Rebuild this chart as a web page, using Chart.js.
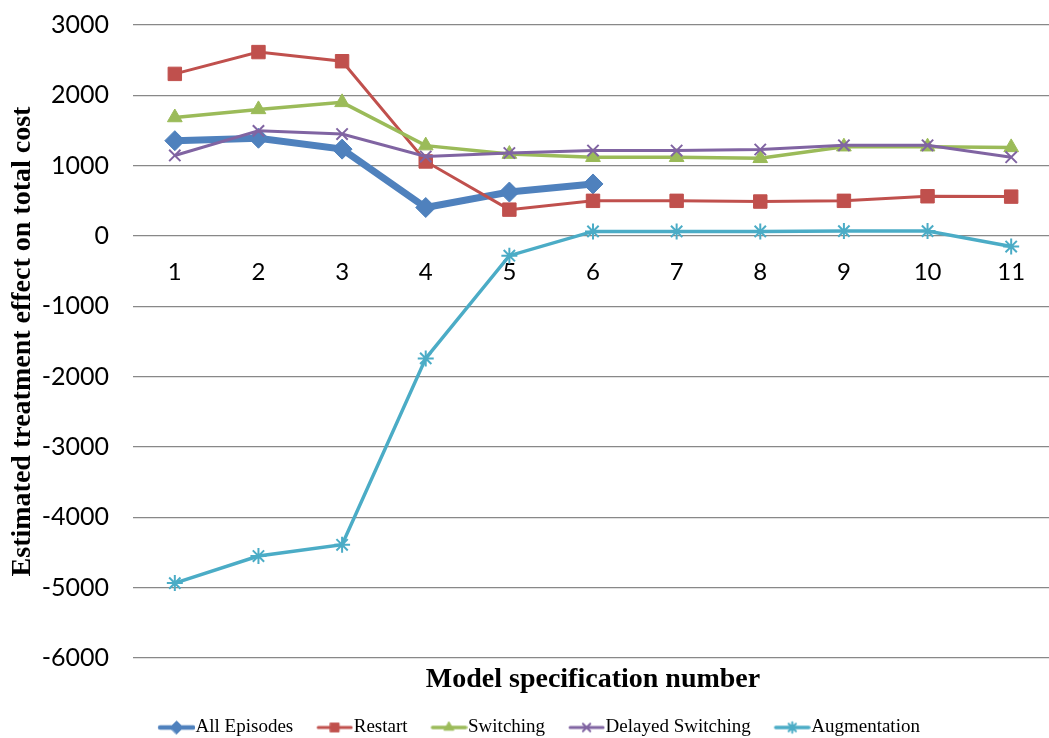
<!DOCTYPE html>
<html>
<head>
<meta charset="utf-8">
<script src="https://cdn.jsdelivr.net/npm/chart.js@4/dist/chart.umd.min.js"></script>
<style>
  html, body { margin: 0; padding: 0; background: #fff; overflow: hidden; }
  #wrap { width: 1064px; height: 747px; position: relative; }
</style>
</head>
<body>
<div id="wrap"><canvas id="cost-chart"></canvas></div>
<script>
const specNumbers = ['1', '2', '3', '4', '5', '6', '7', '8', '9', '10', '11'];

const allEpisodes = [1355, 1390, 1235, 405, 625, 740];
const restart = [2305, 2615, 2485, 1060, 375, 500, 500, 490, 500, 565, 560];
const switching = [1685, 1800, 1900, 1285, 1165, 1120, 1120, 1105, 1270, 1270, 1260];
const delayedSwitching = [1145, 1495, 1450, 1130, 1180, 1215, 1215, 1230, 1290, 1290, 1120];
const augmentation = [-4935, -4550, -4390, -1740, -280, 65, 65, 65, 70, 70, -150];

const yTicks = { min: -6000, max: 3000, step: 1000 };

function series(label, data, color, style, radius, width, order) {
    return {
        label: label,
        data: data,
        borderColor: color,
        backgroundColor: color,
        pointBackgroundColor: color,
        pointBorderColor: color,
        pointStyle: style,
        pointRadius: radius,
        pointHoverRadius: radius,
        pointBorderWidth: (style === 'crossRot' || style === 'star') ? 2 : 1,
        borderWidth: width,
        tension: 0,
        order: order
    };
}

// small canvas with line + marker, like the office-style legend
// (blank strip on the left so the sample sits right before the text)
function legendIcon(ds) {
    const c = document.createElement('canvas');
    c.width = 58;
    c.height = 18;
    const ctx = c.getContext('2d');
    ctx.strokeStyle = ds.borderColor;
    ctx.fillStyle = ds.borderColor;
    ctx.lineWidth = Math.min(ds.borderWidth, 4.5);
    ctx.lineCap = 'round';
    ctx.beginPath();
    ctx.moveTo(23, 9);
    ctx.lineTo(56, 9);
    ctx.stroke();
    ctx.lineWidth = ds.pointBorderWidth;
    Chart.helpers.drawPoint(ctx, {
        pointStyle: ds.pointStyle,
        radius: ds.pointRadius * 0.65,
        borderWidth: ds.pointBorderWidth,
        rotation: 0
    }, 39.5, 9);
    return c;
}

const ctx = document.querySelector('#cost-chart').getContext('2d');

new Chart(ctx, {
    type: 'line',
    data: {
        labels: specNumbers,
        datasets: [
            series('All Episodes', allEpisodes, '#4F81BD', 'rectRot', 10, 7, 5),
            series('Restart', restart, '#C0504D', 'rect', 9.5, 3, 4),
            series('Switching', switching, '#9BBB59', 'triangle', 8.5, 3.5, 3),
            series('Delayed Switching', delayedSwitching, '#8064A2', 'crossRot', 8, 3, 2),
            series('Augmentation', augmentation, '#4BACC6', 'star', 8, 3.5, 1)
        ]
    },
    options: {
        responsive: true,
        maintainAspectRatio: false,
        animation: false,
        layout: { padding: { top: 25, right: 4, left: 6, bottom: 0 } },
        scales: {
            x: {
                type: 'category',
                position: { y: 0 },
                offset: true,
                grid: { display: false },
                border: { display: false },
                ticks: {
                    color: '#000',
                    padding: 14,
                    font: { family: 'Lato', size: 24 }
                }
            },
            y: {
                min: yTicks.min,
                max: yTicks.max,
                // invisible tick marks keep the labels clear of the grid
                grid: { color: '#888', lineWidth: 1.3, drawTicks: true, tickLength: 23, tickColor: 'rgba(0,0,0,0)' },
                border: { display: false },
                afterFit: scale => { scale.width = 127; },
                ticks: {
                    stepSize: yTicks.step,
                    color: '#000',
                    padding: 1,
                    font: { family: 'Lato', size: 25 },
                    callback: value => String(value)
                },
                title: {
                    display: true,
                    text: 'Estimated treatment effect on total cost',
                    color: '#000',
                    padding: { top: 0, bottom: 0 },
                    font: { family: 'Liberation Serif', size: 28, weight: 'bold', lineHeight: 1.2 }
                }
            }
        },
        plugins: {
            tooltip: { enabled: false },
            title: {
                display: true,
                position: 'bottom',
                fullSize: false,
                weight: 500,
                text: 'Model specification number',
                color: '#000',
                padding: { top: 8, bottom: 13 },
                font: { family: 'Liberation Serif', size: 28, weight: 'bold', lineHeight: 1 }
            },
            legend: {
                position: 'bottom',
                labels: {
                    usePointStyle: true,
                    pointStyleWidth: 40,
                    padding: 11,
                    color: '#000',
                    font: { family: 'Liberation Serif', size: 19 },
                    generateLabels: chart => chart.data.datasets.map((ds, i) => ({
                        text: ds.label,
                        pointStyle: legendIcon(ds),
                        datasetIndex: i,
                        fontColor: '#000',
                        fillStyle: 'transparent',
                        strokeStyle: 'transparent',
                        lineWidth: 0,
                        hidden: false
                    }))
                }
            }
        }
    }
});
</script>
</body>
</html>
